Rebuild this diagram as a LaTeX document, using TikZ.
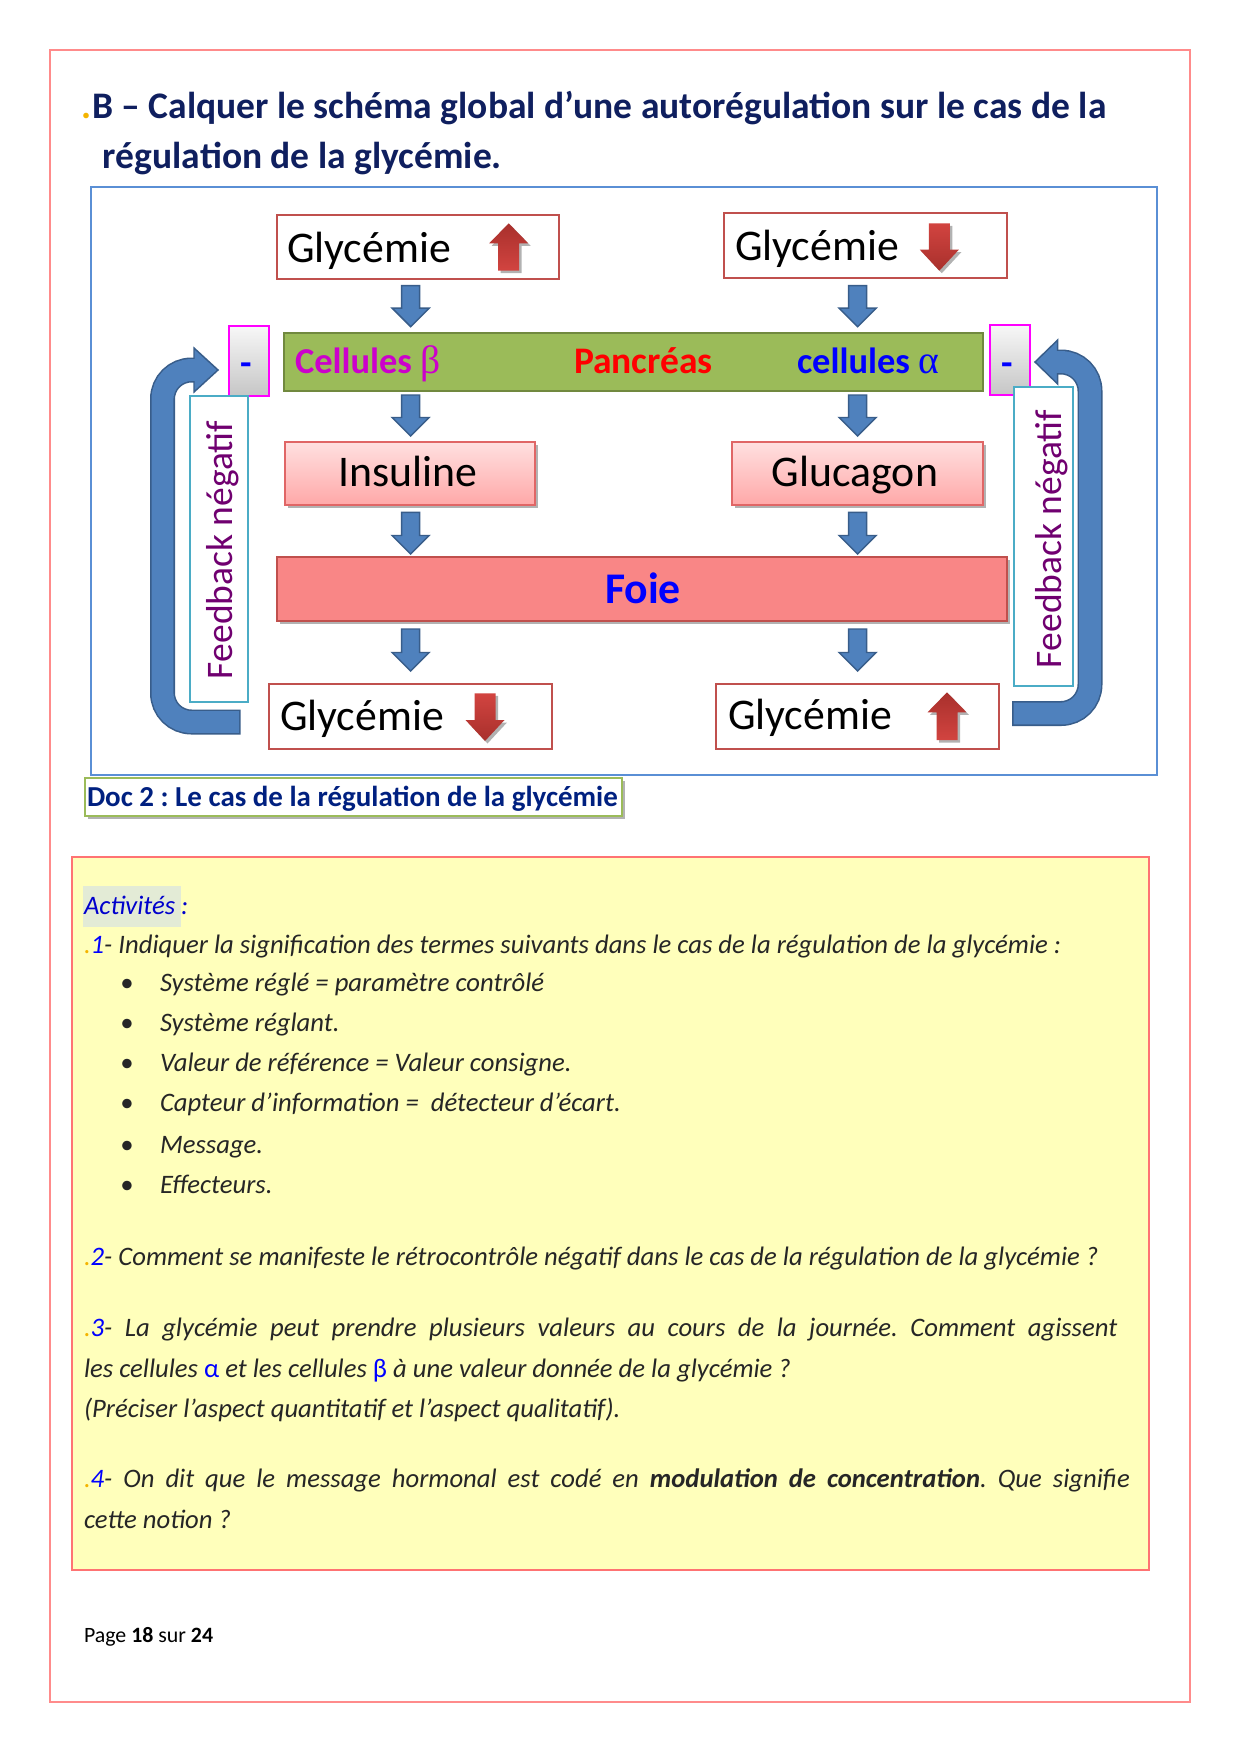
\documentclass[tikz,border=0pt]{standalone}
\usepackage{fontspec}
\setmainfont{Carlito}
\newfontfamily\symgr{Liberation Serif}
\usetikzlibrary{shadows}
\frenchspacing
\definecolor{pgborder}{HTML}{FF8B8B}
\definecolor{titleblue}{HTML}{0F1F5F}
\definecolor{diagblue}{HTML}{5A8FD5}
\definecolor{glyred}{HTML}{C0504D}
\definecolor{arrowblue}{HTML}{4F81BD}
\definecolor{arrowdark}{HTML}{385D8A}
\definecolor{pangreen}{HTML}{9BBB59}
\definecolor{pandark}{HTML}{71893F}
\definecolor{foiefill}{HTML}{F98686}
\definecolor{pinktop}{HTML}{FFE0E0}
\definecolor{pinkbot}{HTML}{FFA8A8}
\definecolor{pinkedge}{HTML}{E06666}
\definecolor{fbcyan}{HTML}{4BACC6}
\definecolor{fbpurple}{HTML}{700070}
\definecolor{magbox}{HTML}{FF00FF}
\definecolor{yellowbg}{HTML}{FFFFBB}
\definecolor{yellowedge}{HTML}{FF7373}
\definecolor{actbg}{HTML}{E3EBD6}
\definecolor{capblue}{HTML}{002080}
\definecolor{capedge}{HTML}{9BBB59}
\definecolor{handink}{HTML}{262626}
\definecolor{dotorange}{HTML}{F4B400}
\definecolor{redA}{HTML}{A8302C}
\definecolor{redB}{HTML}{D24440}
\definecolor{magtext}{HTML}{CC00CC}
\newcommand\rbox[6]{\node[#1, anchor=north west, inner sep=0pt, outer sep=0pt, minimum width={(#4-#2)*0.48pt}, minimum height={(#5-#3)*0.48pt}] (#6) at (#2,#3) {};}
\newcommand\bluedown[3]{\filldraw[fill=arrowblue, draw=arrowdark, line width=0.7pt] (#1-9,#2) -- (#1+9,#2) -- (#1+9,#3-18.5) -- (#1+18.5,#3-18.5) -- (#1,#3) -- (#1-18.5,#3-18.5) -- (#1-9,#3-18.5) -- cycle;}
\newcommand\redup[3]{\path[sh, top color=redA, bottom color=redB] (#1-10.5,#3) -- (#1-10.5,#2+20) -- (#1-19.5,#2+20) -- (#1,#2) -- (#1+19.5,#2+20) -- (#1+10.5,#2+20) -- (#1+10.5,#3) -- cycle;}
\newcommand\reddown[3]{\path[sh, top color=redB, bottom color=redA] (#1-10.5,#2) -- (#1+10.5,#2) -- (#1+10.5,#3-21) -- (#1+19.5,#3-21) -- (#1,#3) -- (#1-19.5,#3-21) -- (#1-10.5,#3-21) -- cycle;}
\begin{document}
\begin{tikzpicture}[x=0.48pt,y=-0.48pt,
  every node/.style={inner sep=0pt, outer sep=0pt},
  sh/.style={drop shadow={shadow xshift=1.2pt, shadow yshift=-1.2pt, opacity=0.3, fill=black}},
  glybox/.style={draw=glyred, line width=1.4pt, fill=white},
  glytext/.style={anchor=base west, font=\fontsize{21pt}{25pt}\selectfont},
  pinkbox/.style={draw=pinkedge, line width=0.5pt, top color=pinktop, bottom color=pinkbot, sh},
  minusbox/.style={draw=magbox, line width=0.6pt, top color=gray!6, bottom color=gray!45},
  minustext/.style={anchor=base, font=\fontsize{18pt}{21pt}\selectfont\bfseries, text=blue},
  fbbox/.style={draw=fbcyan, line width=1.4pt, fill=white},
  fbtext/.style={anchor=base west, rotate=90, font=\fontsize{18pt}{22pt}\selectfont, text=fbpurple},
  titlefont/.style={anchor=base west, font=\fontsize{18pt}{21pt}\selectfont\bfseries, text=titleblue},
  hw/.style={anchor=base west, font=\fontsize{12.8pt}{15pt}\selectfont\itshape, text=handink}]
\useasboundingbox (0,0) rectangle (1240,1754);
\fill[white] (0,0) rectangle (1240,1754);
\rbox{draw=pgborder, line width=0.7pt}{50}{50}{1190}{1702}{page}
% title
\node[titlefont, text=dotorange] (tdot) at (81,118) {.};
\node[titlefont] (title1) at (92,118) {B – Calquer le schéma global d’une autorégulation sur le cas de la};
\node[titlefont] (title2) at (103,168) {régulation de la glycémie.};
% diagram frame
\rbox{draw=diagblue, line width=1.4pt}{91}{187}{1157}{775}{frame}
% glycemie boxes
\rbox{glybox}{277}{215}{559}{279}{gTL}
\rbox{glybox}{724}{213}{1007}{278}{gTR}
\rbox{glybox}{269}{684}{552}{749}{gBL}
\rbox{glybox}{716}{684}{999}{749}{gBR}
\node[glytext] (tTL) at (287,262) {Glycémie};
\node[glytext] (tTR) at (735,260) {Glycémie};
\node[glytext] (tBL) at (280,730) {Glycémie};
\node[glytext] (tBR) at (728,729) {Glycémie};
\redup{508.7}{223.3}{270.7}
\reddown{939.3}{223.3}{270.7}
\reddown{485}{693.3}{741}
\redup{947}{692.3}{740}
% pancreas
\rbox{fill=pangreen, draw=pandark, line width=1.2pt}{284}{333}{983}{391}{panc}
\node[anchor=base west, font=\fontsize{17.5pt}{21pt}\selectfont\bfseries, text=magtext] (cb) at (295,373) {Cellules {\symgr\mdseries\fontsize{19pt}{21pt}\selectfont β}};
\node[anchor=base west, font=\fontsize{18pt}{21pt}\selectfont\bfseries, text=red] (pa) at (574,373) {Pancréas};
\node[anchor=base west, font=\fontsize{17.5pt}{21pt}\selectfont\bfseries, text=blue] (ca) at (797,373) {cellules {\symgr\mdseries\fontsize{19pt}{21pt}\selectfont α}};
% hormones
\rbox{pinkbox}{285}{442}{535}{505}{ins}
\rbox{pinkbox}{732}{442}{983}{505}{glu}
\node[anchor=base, font=\fontsize{21pt}{25pt}\selectfont] (tins) at (408,486) {Insuline};
\node[anchor=base, font=\fontsize{21pt}{25pt}\selectfont] (tglu) at (855,486) {Glucagon};
% foie
\rbox{fill=foiefill, draw=glyred, line width=0.5pt, sh}{277}{557}{1007}{621}{foie}
\node[anchor=base, font=\fontsize{21pt}{25pt}\selectfont\bfseries, text=blue] (tfoie) at (643,603) {Foie};
% block arrows
\bluedown{410.7}{285.7}{326.7}
\bluedown{857.6}{285.7}{326.7}
\bluedown{410.7}{395}{436}
\bluedown{857.6}{395}{436}
\bluedown{410.7}{512.3}{554}
\bluedown{857.6}{512.3}{554}
\bluedown{410.7}{629}{671}
\bluedown{857.6}{629}{671}
% minus boxes
\rbox{minusbox}{229}{326}{269}{396}{mL}
\rbox{minusbox}{990}{325}{1030}{395}{mR}
\node[minustext] (mLt) at (246.5,375) {-};
\node[minustext] (mRt) at (1007.6,375) {-};
% feedback text boxes
\rbox{fbbox}{190}{396}{248}{702}{fbL}
\rbox{fbbox}{1014}{387}{1073}{686}{fbR}
\node[fbtext] (fbLt) at (232,679) {Feedback négatif};
\node[fbtext] (fbRt) at (1061,668) {Feedback négatif};
% feedback arrows
\draw[arrowdark, line width=12pt, rounded corners=13.9pt] (240.5,722) -- (162.5,722) -- (162.5,370) -- (194,370);
\filldraw[fill=arrowblue, draw=arrowdark, line width=0.7pt] (194,348) -- (218,370) -- (194,392) -- cycle;
\draw[arrowblue, line width=10.5pt, rounded corners=13.9pt] (239,722) -- (162.5,722) -- (162.5,370) -- (195.5,370);
\draw[arrowdark, line width=12pt, rounded corners=13.9pt] (1012,713.5) -- (1090,713.5) -- (1090,362) -- (1057.7,362);
\filldraw[fill=arrowblue, draw=arrowdark, line width=0.7pt] (1057.7,340) -- (1035,362) -- (1057.7,384) -- cycle;
\draw[arrowblue, line width=10.5pt, rounded corners=13.9pt] (1013.6,713.5) -- (1090,713.5) -- (1090,362) -- (1056.2,362);
% caption
\rbox{draw=capedge, line width=0.6pt, fill=white, sh}{85}{778}{622}{816}{cap}
\node[anchor=base west, font=\fontsize{13.9pt}{16pt}\selectfont\bfseries, text=capblue] (tcap) at (87,806.5) {Doc 2 : Le cas de la régulation de la glycémie};
% activities
\rbox{fill=yellowbg, draw=yellowedge, line width=0.6pt}{72}{857}{1149}{1570}{act}
\rbox{fill=actbg}{83}{886}{181}{927}{acthl}
\node[hw, text=blue!80!black] (a0) at (84,914) {Activités :};
\node[hw] (a1) at (84,953) {\textcolor{dotorange}{.}\textcolor{blue}{1}- Indiquer la signification des termes suivants dans le cas de la régulation de la glycémie :};
\node[hw] (b1) at (120,991) {•};
\node[hw] (b2) at (120,1031) {•};
\node[hw] (b3) at (120,1071.5) {•};
\node[hw] (b4) at (120,1111.5) {•};
\node[hw] (b5) at (120,1153) {•};
\node[hw] (b6) at (120,1193) {•};
\node[hw] (i1) at (160,991) {Système réglé = paramètre contrôlé};
\node[hw] (i2) at (160,1031) {Système réglant.};
\node[hw] (i3) at (160,1071.5) {Valeur de référence = Valeur consigne.};
\node[hw] (i4) at (160,1111.5) {Capteur d'information = \ détecteur d'écart.};
\node[hw] (i5) at (160,1153) {Message.};
\node[hw] (i6) at (160,1193) {Effecteurs.};
\node[hw] (q2) at (84,1265) {\textcolor{dotorange}{.}\textcolor{blue}{2}- Comment se manifeste le rétrocontrôle négatif dans le cas de la régulation de la glycémie ?};
\node[hw] (q3a) at (84,1336.5) {\makebox[496pt][s]{\textcolor{dotorange}{.}\textcolor{blue}{3}- La glycémie peut prendre plusieurs valeurs au cours de la journée. Comment agissent}};
\node[hw] (q3b) at (84,1377) {les cellules \textcolor{blue}{\upshape α} et les cellules \textcolor{blue}{\upshape β} à une valeur donnée de la glycémie ?};
\node[hw] (q3c) at (84,1417) {(Préciser l'aspect quantitatif et l'aspect qualitatif).};
\node[hw] (q4a) at (84,1487) {\makebox[502pt][s]{\textcolor{dotorange}{.}\textcolor{blue}{4}- On dit que le message hormonal est codé en \textbf{modulation de concentration}. Que signifie}};
\node[hw] (q4b) at (84,1528) {cette notion ?};
% footer
\node[anchor=base west, font=\fontsize{10.5pt}{13pt}\selectfont] (foot) at (84,1642) {Page \textbf{18} sur \textbf{24}};
\end{tikzpicture}
\end{document}
